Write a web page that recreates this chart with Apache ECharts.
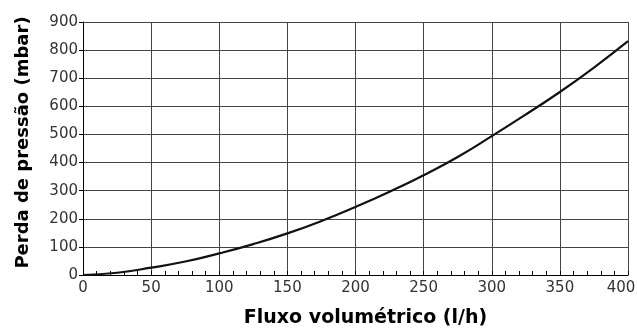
<!DOCTYPE html>
<html><head><meta charset="utf-8">
<script src="https://cdn.jsdelivr.net/npm/echarts@6/dist/echarts.min.js"></script>
<style>html,body{margin:0;padding:0;background:#fff}#c{width:637px;height:329px}</style>
</head><body><div id="c"></div>
<script>
const flow = [0, 25, 50, 75, 100, 125, 150, 175, 200, 225, 250, 275, 300, 325, 350, 375, 400];
const pressure = [0, 8, 26, 48, 77, 110, 148, 192, 242, 296, 355, 420, 494, 571, 651, 738, 832];
const xTitle = 'Fluxo volumétrico (l/h)';
const yTitle = 'Perda de pressão (mbar)';

const chart = echarts.init(document.getElementById('c'), null, {renderer: 'canvas'});
chart.setOption({
  animation: false,
  grid: {left: 83, right: 9, top: 22, bottom: 54, containLabel: false, outerBoundsMode: 'none'},
  xAxis: {
    type: 'value', min: 0, max: 400, interval: 50,
    name: xTitle, nameLocation: 'middle', nameGap: 34,
    nameTextStyle: {fontFamily: 'DejaVu Sans', fontWeight: 'bold', fontSize: 19, color: '#000', padding: [0, 0, 0, 20]},
    axisLine: {show: true, lineStyle: {color: '#000', width: 1}},
    axisTick: {show: true, inside: true, length: 4, lineStyle: {color: '#000'}},
    minorTick: {show: true, splitNumber: 5, length: 4, lineStyle: {color: '#000'}},
    axisLabel: {
      fontFamily: 'DejaVu Sans', fontSize: 15, color: '#333', margin: 6,
      formatter: v => v === 400 ? '{m|' + v + '}' : String(v),
      rich: {m: {fontFamily: 'DejaVu Sans', fontSize: 15, color: '#333', padding: [0, 14, 0, 0]}}
    },
    splitLine: {show: true, lineStyle: {color: '#444', width: 1}}
  },
  yAxis: {
    type: 'value', min: 0, max: 900, interval: 100,
    name: yTitle, nameLocation: 'middle', nameGap: 51,
    nameTextStyle: {fontFamily: 'DejaVu Sans', fontWeight: 'bold', fontSize: 18, color: '#000', padding: [0, 0, 0, 12]},
    axisLine: {show: true, lineStyle: {color: '#000', width: 1}},
    axisTick: {show: true, inside: false, length: 4, lineStyle: {color: '#000'}},
    axisLabel: {fontFamily: 'DejaVu Sans', fontSize: 15, color: '#333', margin: 5},
    splitLine: {show: true, lineStyle: {color: '#444', width: 1}}
  },
  series: [{
    type: 'line', data: flow.map((x, i) => [x, pressure[i]]),
    smooth: true, showSymbol: false,
    lineStyle: {color: '#111', width: 2.2}
  }]
});
</script></body></html>
